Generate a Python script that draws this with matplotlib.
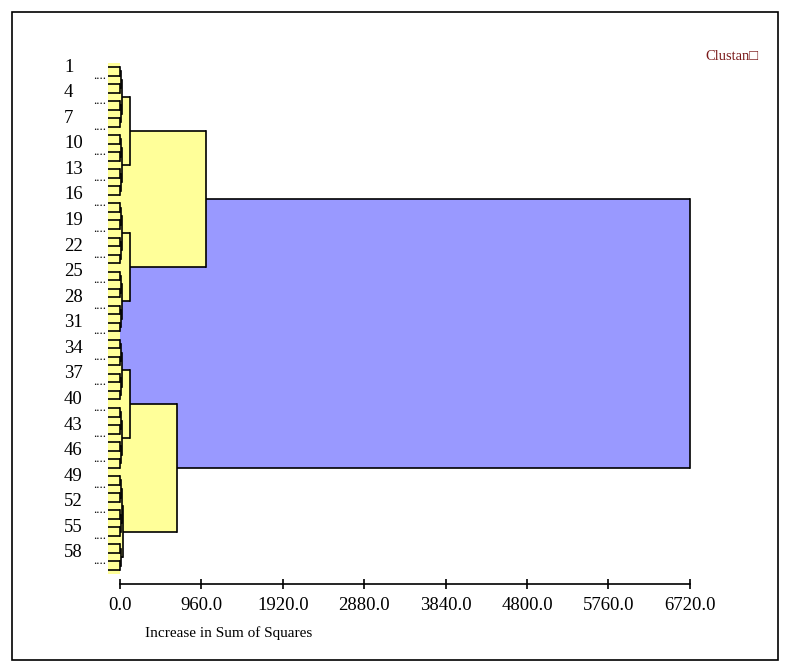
import matplotlib.pyplot as plt
from matplotlib.patches import Rectangle

# cases and how they fuse
n_cases = 60
shown_labels = list(range(1, n_cases + 1, 3))
dot_rows = list(range(2, n_cases + 1, 3))
groups = [(1, 8), (9, 16), (17, 24), (25, 32), (33, 40), (41, 48), (49, 56), (57, 60)]
small_levels = [4, 10, 20]          # fusion of pairs, fours, eights
sub_levels = [118, 118, 118, 35]    # groups 1+2, 3+4, 5+6, 7+8
major_levels = [1014, 672]          # upper and lower cluster
root_level = 6720
xticks = [0, 960, 1920, 2880, 3840, 4800, 5760, 6720]

YELLOW = '#ffff99'
BLUE = '#9999ff'
FONT = ['Liberation Serif', 'DejaVu Serif']

W, H = 791, 671
PX = 0.0848          # pixels per unit of sum of squares
X0 = 120             # pixel column of zero
LEAF_START = -12 / PX


def block(lo, hi):
    if lo == hi:
        return {'y': lo, 'h': None, 'kids': []}
    mid = (lo + hi) // 2
    size = hi - lo + 1
    lvl = small_levels[size.bit_length() - 2]
    return join(block(lo, mid), block(mid + 1, hi), lvl)


def join(a, b, h):
    return {'y': (a['y'] + b['y']) / 2, 'h': h, 'kids': [a, b]}


g = [block(lo, hi) for lo, hi in groups]
subs = [join(g[2 * i], g[2 * i + 1], sub_levels[i]) for i in range(4)]
top = join(subs[0], subs[1], major_levels[0])
bottom = join(subs[2], subs[3], major_levels[1])
root = join(top, bottom, root_level)

fig = plt.figure(figsize=(W / 100, H / 100), dpi=100)
ax_l, ax_r = 100, 700
ax_t, ax_b = 55, 584
ax = fig.add_axes([ax_l / W, 1 - ax_b / H, (ax_r - ax_l) / W, (ax_b - ax_t) / H])
ax.set_xlim((ax_l - X0) / PX, (ax_r - X0) / PX)
pitch = (570 - 67) / (n_cases - 1)
ax.set_ylim(n_cases + (ax_b - 570) / pitch, 1 - (67 - ax_t) / pitch)
ax.set_facecolor('none')


def draw(node, parent_h, depth):
    x0 = LEAF_START if node['h'] is None else node['h']
    ax.plot([x0, parent_h], [node['y'], node['y']], color='black', lw=1.2, zorder=10,
            solid_capstyle='butt')
    if node['h'] is None:
        return
    a, b = node['kids']
    col = BLUE if depth == 0 else YELLOW
    ax.add_patch(Rectangle((0, a['y']), node['h'], b['y'] - a['y'], facecolor=col,
                           edgecolor='none', zorder=1 + depth * 0.1))
    ax.plot([node['h'], node['h']], [a['y'], b['y']], color='black', lw=1.2, zorder=10)
    for k in node['kids']:
        draw(k, node['h'], depth + 1)


# yellow strip behind the case lines
ax.add_patch(Rectangle((LEAF_START, 0.5), -LEAF_START, n_cases, facecolor=YELLOW,
                       edgecolor='none', zorder=0.5))

a, b = root['kids']
ax.add_patch(Rectangle((0, a['y']), root['h'], b['y'] - a['y'], facecolor=BLUE,
                       edgecolor='none', zorder=0.8))
ax.plot([root['h'], root['h']], [a['y'], b['y']], color='black', lw=1.2, zorder=10)
for k in root['kids']:
    draw(k, root['h'], 1)

for c in shown_labels:
    ax.text((64 - X0) / PX, c, str(c), ha='left', va='center', fontsize=13.5,
            family=FONT)
for c in dot_rows:
    ax.text((93 - X0) / PX, c, '....', ha='left', va='center', fontsize=9,
            family=FONT)

for s in ['left', 'top', 'right']:
    ax.spines[s].set_visible(False)
ax.spines['bottom'].set_bounds(0, root_level)
ax.spines['bottom'].set_linewidth(1.2)
ax.set_yticks([])
ax.set_xticks(xticks)
ax.set_xticklabels([f'{v:.1f}' for v in xticks], family=FONT, fontsize=13.5)
ax.tick_params(axis='x', direction='inout', length=7, width=1.2, pad=6)

fig.text(145 / W, 1 - 633 / H, 'Increase in Sum of Squares', ha='left', va='center',
         fontsize=11, family=FONT)
fig.text(732 / W, 1 - 56 / H, 'Clustan\u25a1', ha='center', va='center',
         fontsize=10.5, color='#7a1a1a', family=FONT)

fig.patches.append(Rectangle((12 / W, 1 - 660 / H), 766 / W, 648 / H, transform=fig.transFigure,
                             fill=False, edgecolor='black', lw=1.2))

fig.savefig('out.png', dpi=100)
